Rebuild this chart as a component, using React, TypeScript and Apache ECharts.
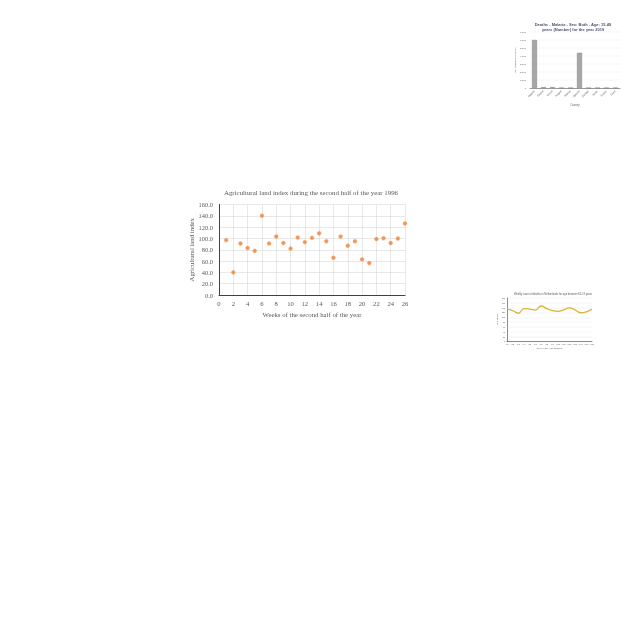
import React, { useEffect, useRef } from "react";
import * as echarts from "echarts";

// Main scatter chart
const weeks = [1, 2, 3, 4, 5, 6, 7, 8, 9, 10, 11, 12, 13, 14, 15, 16, 17, 18, 19, 20, 21, 22, 23, 24, 25, 26];
const landIndex = [97, 40, 91, 83, 78, 140, 91, 103.5, 92, 82, 101.5, 93.5, 101, 109, 95, 66, 103.5, 87, 95, 63, 56.5, 99, 100.5, 92, 100, 126.5];

// Thumbnail bar chart
const countries = ["Nigeria", "Ghana", "Kenya", "Angola", "Malawi", "Uganda", "Zambia", "Benin", "Sudan", "Chad"];
const malariaDeaths = [6000, 110, 100, 0, 0, 4400, 0, 0, 0, 0];

// Thumbnail line chart
const lineWeeks = ["W1", "W2", "W3", "W4", "W5", "W6", "W7", "W8", "W9", "W10", "W11", "W12", "W13", "W14", "W15", "W16"];
const lineValues = [134, 128, 117, 136, 134, 130, 147, 136, 128, 125, 131, 139, 131, 119, 123, 134];

export default function App() {
  const ref = useRef<HTMLDivElement>(null);
  useEffect(() => {
    if (!ref.current) return;
    const chart = echarts.init(ref.current, null, { renderer: "svg" });
    const serif = "Liberation Serif";
    const sans = "Liberation Sans";
    chart.setOption({
      animation: false,
      title: [
        {
          text: "Agricultural land index during the second half of the year 1996",
          left: 306,
          top: 187,
          textAlign: "center",
          textVerticalAlign: "middle",
          textStyle: { fontFamily: serif, fontSize: 6.9, fontWeight: "normal", color: "#595959" },
        },
        {
          text: "Deaths - Malaria - Sex: Both - Age: 15-49\nyears (Number) for the year 2019",
          left: 568,
          top: 17,
          textAlign: "center",
          textStyle: { fontFamily: sans, fontSize: 4, fontWeight: "bold", color: "#4a5270", lineHeight: 5.2 },
        },
        {
          text: "Weekly count of deaths in Netherlands for age between 65-74 years",
          left: 548,
          top: 288,
          textAlign: "center",
          textStyle: { fontFamily: sans, fontSize: 2.6, fontWeight: "normal", color: "#595959" },
        },
      ],
      grid: [
        { left: 219, right: 235, top: 204.5, bottom: 345, containLabel: false },
        { left: 530, right: 20, top: 32, bottom: 552, containLabel: false },
        { left: 507, right: 48, top: 298, bottom: 298.5, containLabel: false },
      ],
      xAxis: [
        {
          gridIndex: 0,
          type: "value",
          min: 0,
          max: 26,
          interval: 2,
          name: "Weeks of the second half of the year",
          nameLocation: "middle",
          nameGap: 16,
          nameTextStyle: { fontFamily: serif, fontSize: 6.8, color: "#595959" },
          axisLine: { show: true, onZero: false, lineStyle: { color: "#404040", width: 1 } },
          axisTick: { show: false },
          axisLabel: { fontFamily: serif, fontSize: 6.6, color: "#595959", margin: 5 },
          splitLine: { show: true, lineStyle: { color: "#d9d9d9", width: 0.6 } },
        },
        {
          gridIndex: 1,
          type: "category",
          data: countries,
          name: "Country",
          nameLocation: "middle",
          nameGap: 16,
          nameTextStyle: { fontFamily: sans, fontSize: 2.6, color: "#595959" },
          axisLine: { lineStyle: { color: "#595959", width: 0.6 } },
          axisTick: { show: false },
          axisLabel: { fontFamily: sans, fontSize: 2.6, color: "#595959", rotate: 45, margin: 3, interval: 0 },
        },
        {
          gridIndex: 2,
          type: "category",
          data: lineWeeks,
          boundaryGap: false,
          name: "Week of the year (Number)",
          nameLocation: "middle",
          nameGap: 5.5,
          nameTextStyle: { fontFamily: sans, fontSize: 2.2, color: "#595959" },
          axisLine: { lineStyle: { color: "#404040", width: 0.6 } },
          axisTick: { show: false },
          axisLabel: { fontFamily: sans, fontSize: 2, color: "#595959", margin: 2, interval: 0 },
        },
      ],
      yAxis: [
        {
          gridIndex: 0,
          type: "value",
          min: 0,
          max: 160,
          interval: 20,
          name: "Agricultural land index",
          nameLocation: "middle",
          nameGap: 22,
          nameTextStyle: { fontFamily: serif, fontSize: 6.8, color: "#595959" },
          axisLine: { show: true, lineStyle: { color: "#404040", width: 1 } },
          axisTick: { show: false },
          axisLabel: {
            fontFamily: serif,
            fontSize: 6.4,
            color: "#595959",
            margin: 6,
            formatter: (v: number) => v.toFixed(1),
          },
          splitLine: { show: true, lineStyle: { color: "#d9d9d9", width: 0.6 } },
        },
        {
          gridIndex: 1,
          type: "value",
          min: 0,
          max: 7000,
          interval: 1000,
          name: "No. of deaths (Number)",
          nameLocation: "middle",
          nameGap: 11,
          nameTextStyle: { fontFamily: sans, fontSize: 2.4, color: "#595959" },
          axisLine: { show: false },
          axisTick: { show: false },
          axisLabel: { fontFamily: sans, fontSize: 2.4, color: "#595959", margin: 4 },
          splitLine: { show: true, lineStyle: { color: "#e3e3e3", width: 0.4 } },
        },
        {
          gridIndex: 2,
          type: "value",
          min: 0,
          max: 180,
          interval: 20,
          name: "No. of deaths",
          nameLocation: "middle",
          nameGap: 7,
          nameTextStyle: { fontFamily: sans, fontSize: 2, color: "#595959" },
          axisLine: { show: true, lineStyle: { color: "#404040", width: 0.6 } },
          axisTick: { show: false },
          axisLabel: { fontFamily: sans, fontSize: 2, color: "#595959", margin: 2 },
          splitLine: { show: true, lineStyle: { color: "#e3e3e3", width: 0.4 } },
        },
      ],
      series: [
        {
          type: "scatter",
          xAxisIndex: 0,
          yAxisIndex: 0,
          data: weeks.map((w, i) => [w, landIndex[i]]),
          symbol: "circle",
          symbolSize: 4,
          itemStyle: { color: "#ED7D31", borderColor: "#f4b183", borderWidth: 0.5 },
        },
        {
          type: "bar",
          xAxisIndex: 1,
          yAxisIndex: 1,
          data: malariaDeaths,
          barWidth: "55%",
          itemStyle: { color: "#a6a6a6", borderColor: "#7f7f7f", borderWidth: 0.5 },
        },
        {
          type: "line",
          xAxisIndex: 2,
          yAxisIndex: 2,
          data: lineValues,
          smooth: true,
          symbol: "none",
          lineStyle: { color: "#D9B33A", width: 1.3 },
        },
      ],
    });
    return () => chart.dispose();
  }, []);
  return <div ref={ref} style={{ position: "fixed", left: 0, top: 0, width: 640, height: 640 }} />;
}
